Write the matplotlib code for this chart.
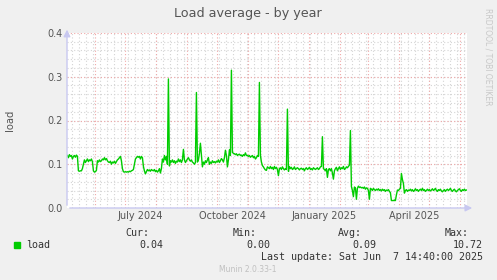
import matplotlib
matplotlib.use("Agg")
import matplotlib.pyplot as plt
import matplotlib.dates as mdates
import numpy as np
import pandas as pd

W, H = 497, 280

# one value per day (400 days ending Jun 6 2025)
load_values = [
    0.12, 0.115, 0.122, 0.118, 0.12, 0.112, 0.118, 0.12, 0.116, 0.121, 0.118,
    0.085, 0.084, 0.085, 0.085, 0.09,
    0.1, 0.11, 0.104, 0.108, 0.112, 0.106, 0.11, 0.108, 0.112, 0.106,
    0.085, 0.082, 0.083, 0.086,
    0.108, 0.105, 0.11, 0.106, 0.108, 0.112, 0.11, 0.115, 0.11, 0.113, 0.108, 0.105,
    0.104, 0.107, 0.1, 0.105, 0.103, 0.107, 0.102, 0.106, 0.11, 0.112, 0.115, 0.118, 0.108,
    0.09, 0.083, 0.082, 0.083, 0.082, 0.083, 0.082, 0.084, 0.083, 0.085, 0.086,
    0.088, 0.1, 0.112, 0.115, 0.118, 0.116, 0.118, 0.112, 0.118, 0.115,
    0.095, 0.085, 0.078, 0.083, 0.088, 0.085, 0.087, 0.084, 0.088, 0.086, 0.085, 0.088,
    0.083, 0.086, 0.082, 0.085, 0.09,
    0.08, 0.09, 0.112, 0.105, 0.12, 0.11, 0.118, 0.1,
    0.295,
    0.096, 0.108, 0.105, 0.11, 0.104, 0.108, 0.102, 0.107, 0.105, 0.112, 0.106, 0.11, 0.104, 0.11,
    0.134, 0.11, 0.104, 0.108, 0.112, 0.115, 0.11, 0.107, 0.11, 0.105, 0.103, 0.1, 0.104,
    0.264,
    0.105, 0.11, 0.125, 0.148, 0.12, 0.094, 0.105, 0.1, 0.108, 0.104, 0.11, 0.115, 0.1, 0.105,
    0.102, 0.108, 0.104, 0.106, 0.103, 0.107, 0.105, 0.11, 0.104, 0.108, 0.113, 0.11, 0.105,
    0.115, 0.132, 0.12, 0.094, 0.11, 0.133, 0.12,
    0.315,
    0.127, 0.125, 0.124, 0.122, 0.124, 0.12, 0.122, 0.123, 0.12, 0.121, 0.118, 0.122, 0.12, 0.126,
    0.12, 0.12, 0.118, 0.12, 0.116, 0.118, 0.12, 0.115, 0.118, 0.112, 0.115, 0.12, 0.118,
    0.287,
    0.12, 0.105, 0.097, 0.094, 0.09, 0.087, 0.086, 0.094, 0.092, 0.09, 0.095, 0.09, 0.093, 0.088,
    0.095, 0.09, 0.093, 0.088,
    0.074,
    0.09, 0.092, 0.088, 0.094, 0.09, 0.087, 0.09, 0.088,
    0.226,
    0.084, 0.095, 0.09, 0.093, 0.088, 0.09, 0.094, 0.088, 0.09, 0.092, 0.09, 0.087, 0.09, 0.091,
    0.088, 0.09, 0.085, 0.09, 0.092, 0.088, 0.09, 0.093, 0.088, 0.09, 0.087, 0.092, 0.09, 0.088,
    0.09, 0.092, 0.088, 0.09, 0.094, 0.095,
    0.163,
    0.09, 0.088, 0.085, 0.09, 0.07, 0.088, 0.09, 0.085, 0.09, 0.08, 0.066, 0.085, 0.09, 0.093,
    0.085, 0.09, 0.094, 0.088, 0.092, 0.09, 0.095, 0.088, 0.09, 0.094, 0.092, 0.095, 0.098,
    0.177,
    0.049, 0.04, 0.026, 0.048, 0.046, 0.02, 0.045, 0.05, 0.047, 0.048, 0.046, 0.047, 0.045, 0.048,
    0.043, 0.046, 0.045, 0.04, 0.02, 0.045, 0.043, 0.04, 0.045, 0.042, 0.04, 0.043, 0.041, 0.044,
    0.04, 0.042, 0.039, 0.043, 0.04, 0.042, 0.038, 0.041, 0.04, 0.042, 0.038, 0.035,
    0.017, 0.017, 0.017, 0.018, 0.017, 0.03,
    0.041, 0.04, 0.043, 0.045, 0.079, 0.065, 0.056, 0.034, 0.04, 0.042, 0.038, 0.041, 0.04, 0.043,
    0.039, 0.042, 0.038, 0.04, 0.044, 0.04, 0.042, 0.038, 0.041, 0.043, 0.04, 0.045, 0.04, 0.042,
    0.038, 0.04, 0.043, 0.04, 0.042, 0.039, 0.041, 0.044, 0.04, 0.042, 0.045, 0.04, 0.038, 0.042,
    0.04, 0.043, 0.039, 0.037, 0.04, 0.042, 0.038, 0.041, 0.043, 0.04, 0.042, 0.045, 0.04, 0.038,
    0.041, 0.043, 0.039, 0.037, 0.04, 0.042, 0.044, 0.04, 0.038, 0.042, 0.04, 0.043, 0.04, 0.041,
]

month_labels = ["July 2024", "October 2024", "January 2025", "April 2025"]
month_label_dates = ["2024-07-16", "2024-10-16", "2025-01-16", "2025-04-16"]
y_ticks = [0.0, 0.1, 0.2, 0.3, 0.4]

legend_name = "load"
stat_names = ["Cur:", "Min:", "Avg:", "Max:"]
stat_values = ["0.04", "0.00", "0.09", "10.72"]
last_update = "Last update: Sat Jun  7 14:40:00 2025"

end_time = pd.Timestamp("2025-06-07 14:40")
start_time = end_time - pd.Timedelta(days=400)
dates = pd.date_range(start_time + pd.Timedelta(hours=10), periods=len(load_values), freq="D")


def px(x, y):
    # pixel position (from top left) -> figure fraction
    return x / W, 1 - y / H


fig = plt.figure(figsize=(W / 100, H / 100), dpi=100, facecolor="#f0f0f0")
ax = fig.add_axes([67 / W, (H - 208) / H, 400 / W, 175 / H])
ax.set_facecolor("white")

# grid: weekly / every 0.02 in grey, monthly / every 0.1 in red
minor_col = "#d4d4d4"
major_col = "#f0a8a8"
for d in pd.date_range("2024-05-02", end_time, freq="7D"):
    ax.axvline(d, color=minor_col, lw=0.8, ls=(0, (1, 2)), zorder=1)
for d in pd.date_range("2024-06-01", end_time, freq="MS"):
    ax.axvline(d, color=major_col, lw=0.8, ls=(0, (1, 2)), zorder=2)
for v in np.arange(0.02, 0.4, 0.02):
    ax.axhline(v, color=minor_col, lw=0.8, ls=(0, (1, 2)), zorder=1)
for v in y_ticks[1:]:
    ax.axhline(v, color=major_col, lw=0.8, ls=(0, (1, 2)), zorder=2)

ax.plot(dates, load_values, color="#00cc00", lw=1.0, zorder=3)

ax.set_xlim(start_time, end_time)
ax.set_ylim(0, 0.4)
for s in ax.spines.values():
    s.set_visible(False)

ax.set_yticks(y_ticks)
ax.set_yticklabels(["%.1f" % v for v in y_ticks])
ax.set_xticks(pd.to_datetime(month_label_dates))
ax.set_xticklabels(month_labels)
ax.tick_params(length=0, labelsize=7, labelcolor="#555555", pad=3)
ax.tick_params(axis="x", pad=2)

# axis lines with arrows
axis_col = "#c8c8f0"
ax.annotate("", xy=(0, 1.035), xytext=(0, 0), xycoords="axes fraction",
            arrowprops=dict(arrowstyle="-|>,head_length=0.4,head_width=0.2", color=axis_col, lw=1),
            annotation_clip=False)
ax.annotate("", xy=(1.02, 0), xytext=(0, 0), xycoords="axes fraction",
            arrowprops=dict(arrowstyle="-|>,head_length=0.4,head_width=0.2", color=axis_col, lw=1),
            annotation_clip=False)

fig.text(*px(248, 14), "Load average - by year", ha="center", va="center",
         fontsize=9.2, color="#555555")
fig.text(*px(10, 120), "load", ha="center", va="center", rotation=90,
         fontsize=7.2, color="#555555")
fig.text(*px(488, 57), "RRDTOOL / TOBI OETIKER", ha="center", va="center",
         rotation=270, fontsize=5.5, color="#c8c8c8")

# legend block
mono = "DejaVu Sans Mono"
fig.patches.append(plt.Rectangle(px(14, 248), 6 / W, 6 / H, transform=fig.transFigure,
                                 color="#00cc00", figure=fig))
fig.text(*px(26, 245), legend_name, ha="left", va="center", family=mono,
         fontsize=7.2, color="#333333")
name_right = [149, 257, 362, 469]
value_right = [163, 270, 376, 483]
for name, val, nx_, vx in zip(stat_names, stat_values, name_right, value_right):
    fig.text(*px(nx_, 233), name, ha="right", va="center", family=mono,
             fontsize=7.2, color="#333333")
    fig.text(*px(vx, 245), val, ha="right", va="center", family=mono,
             fontsize=7.2, color="#333333")
fig.text(*px(483, 257), last_update, ha="right", va="center", family=mono,
         fontsize=7.2, color="#333333")
fig.text(*px(248, 269), "Munin 2.0.33-1", ha="center", va="center",
         fontsize=5.5, color="#c0c0c0")

fig.savefig("out.png", dpi=100, facecolor=fig.get_facecolor())
